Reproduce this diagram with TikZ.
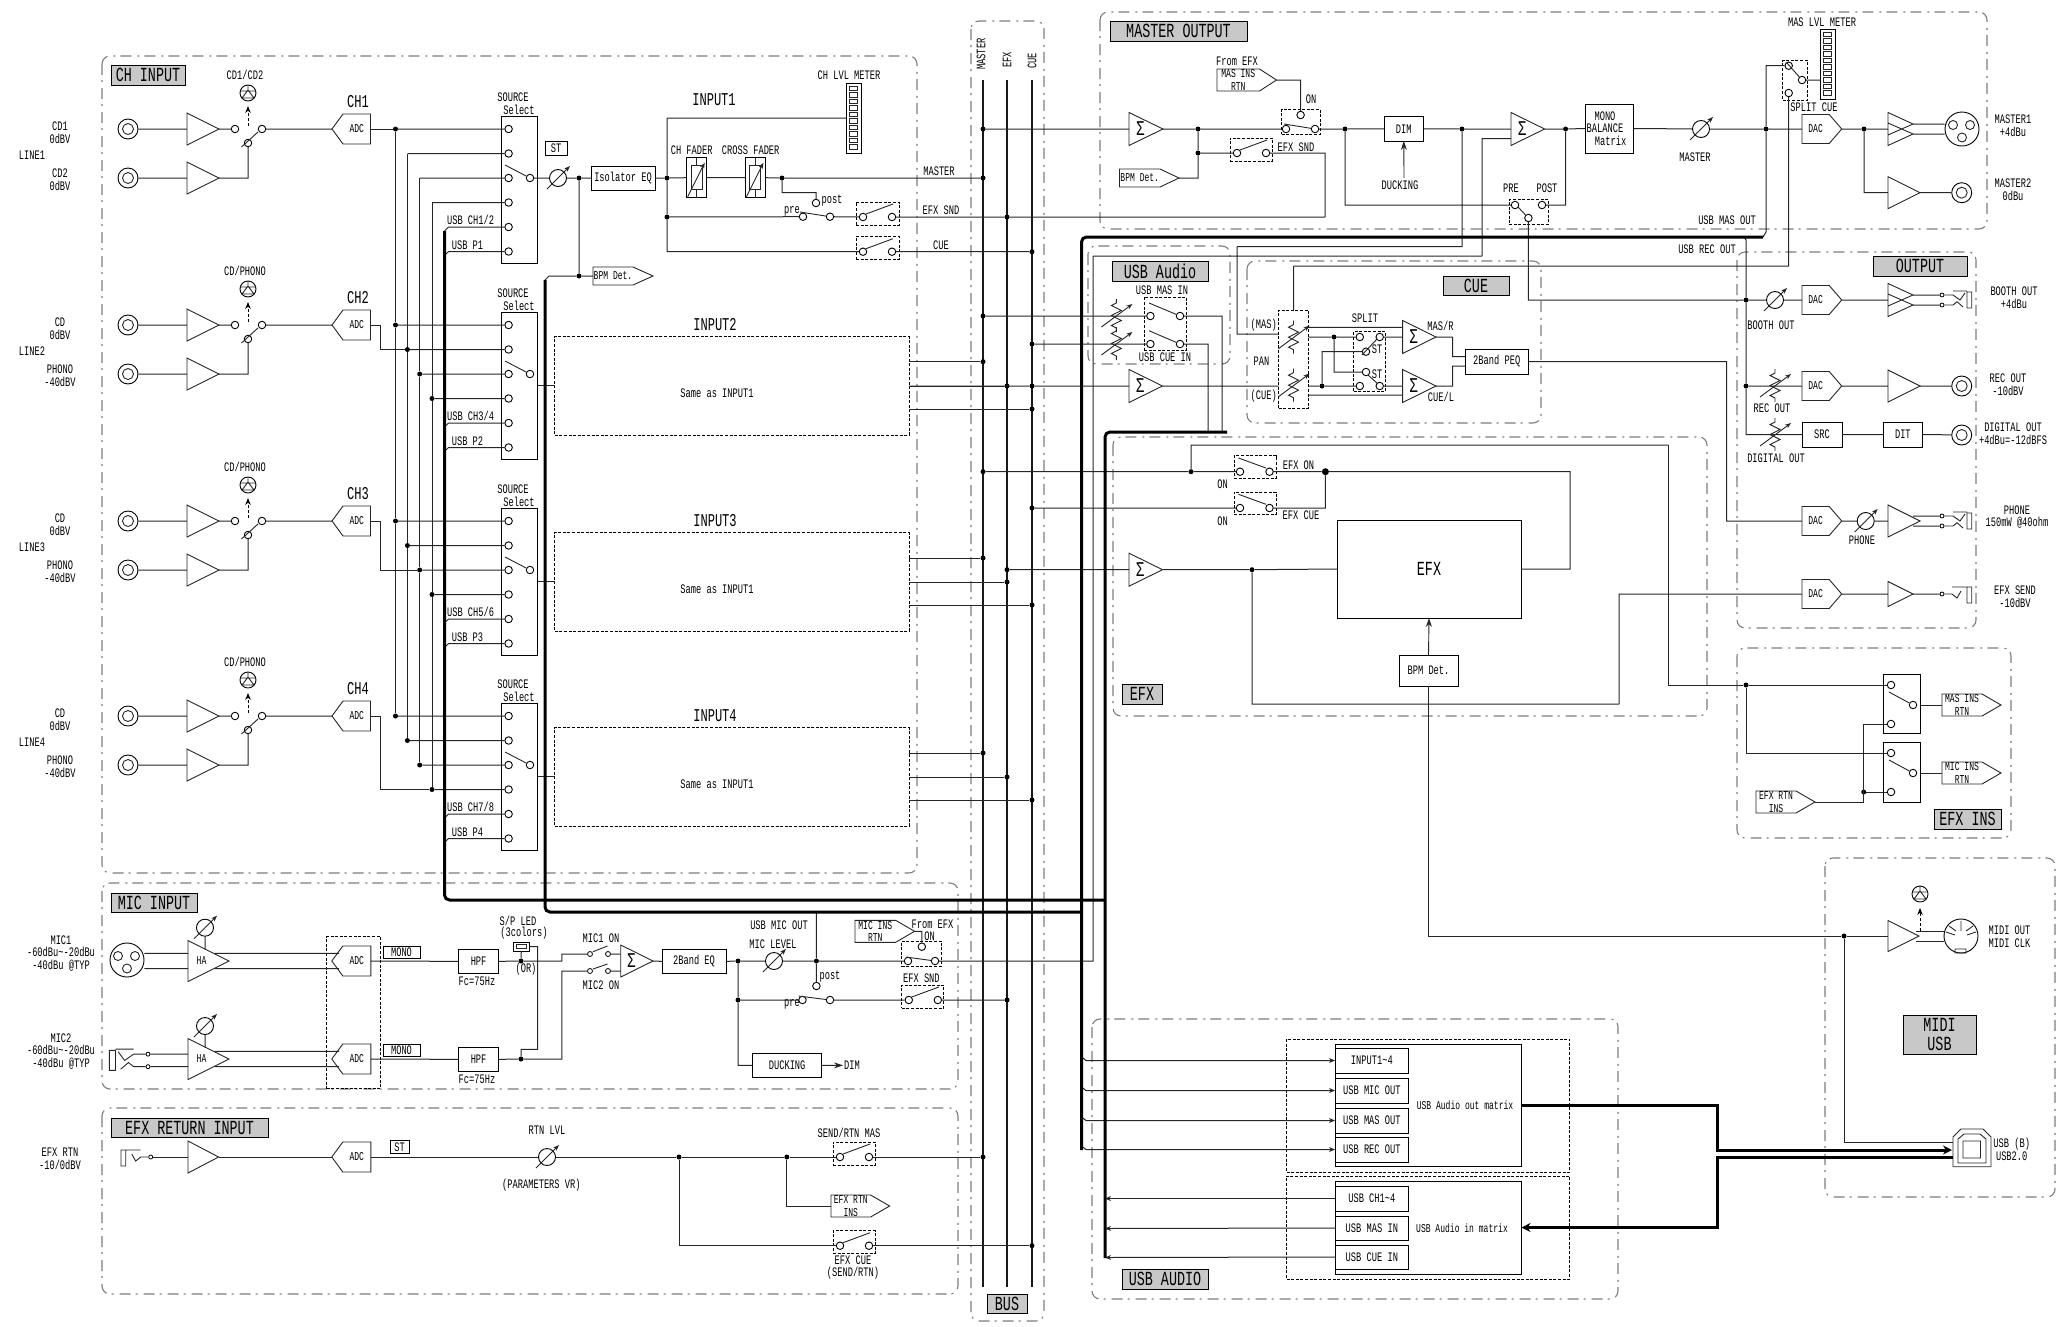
\documentclass[tikz,border=0pt]{standalone}
\usepackage{fontspec}
\usetikzlibrary{arrows.meta}
\newfontfamily\lblfont[FakeStretch=.67]{Liberation Mono}
\definecolor{ttlgray}{RGB}{200,200,200}
\definecolor{framegray}{RGB}{125,125,125}
\newcounter{labno}
\newcommand{\bigf}{\fontsize{20}{24}\selectfont}
\newcommand{\sgm}{\fontsize{21}{21}\selectfont Σ}

\tikzset{
  wire/.style={line width=1pt,black!85},
  busln/.style={line width=1.2pt,black!90},
  fatbus/.style={line width=3pt,black,rounded corners=5pt},
  fatline/.style={line width=3pt,black},
  sym/.style={line width=.9pt,black!85},
  dashframe/.style={draw=framegray,line width=1.1pt,rounded corners=8pt,dash pattern=on 11pt off 5pt on 2pt off 6pt},
  dashbox/.style={draw,dash pattern=on 3pt off 1.6pt},
  ttlbox/.style={draw,fill=ttlgray},
  plainbox/.style={draw},
  jdot/.style={circle,fill=black,inner sep=0pt,minimum size=5pt},
  jnone/.style={inner sep=0pt,minimum size=0pt},
  term/.style={circle,draw,fill=white,line width=.9pt,inner sep=0pt,minimum size=7.5pt},
  tinyterm/.style={circle,draw,fill=white,line width=.8pt,inner sep=0pt,minimum size=4pt},
  potc/.style={circle,draw,fill=white,line width=.9pt,inner sep=0pt,minimum size=17pt},
  symbox/.style={inner sep=0pt,outer sep=0pt},
  lbl/.style={inner sep=0pt,align=center},
  smtip/.style={-{Stealth[length=6pt,width=5pt]}},
  ledarrow/.style={line width=.9pt,dash pattern=on 3pt off 2pt,-{Stealth[length=7pt,width=5.5pt]}},
}

\newcommand{\lab}[4][13]{\stepcounter{labno}\node[lbl,font=\lblfont\fontsize{#1}{12.6}\selectfont] (txt\thelabno) at ({#2},{#3}) {#4};}
\newcommand{\bx}[7][plainbox]{\node[#1,inner sep=0pt,outer sep=0pt,align=center,line width=.9pt,font=\lblfont\fontsize{13}{12.6}\selectfont,minimum width={((#5)-(#3))*1pt},minimum height={((#6)-(#4))*1pt}] (#2) at ({((#3)+(#5))/2},{((#4)+(#6))/2}) {#7};}
\newcommand{\ampbl}[6]{\node[symbox,minimum width=#4pt,minimum height=#5pt] (#1) at ({(#2)+(#4)/2},{#3}) {};
  \draw[sym] (#1.north west) -- (#1.east) -- (#1.south west) -- cycle;
  \lab[12]{(#2)+(#4)*.33}{#3}{#6}}
\newcommand{\ampdbl}[3]{\node[symbox,minimum width=25pt,minimum height=33pt] (#1) at ({(#2)+12.5},{#3}) {};
  \coordinate (#1-u) at ({(#2)+25},{(#3)-5});
  \coordinate (#1-l) at ({(#2)+25},{(#3)+5});
  \draw[sym] (#1.north west) -- (#1-u) -- ({#2},{(#3)+6}) -- cycle
             (#1.south west) -- (#1-l) -- ({#2},{(#3)-6}) -- cycle;}
\newcommand{\tagr}[7]{\node[symbox,minimum width=#4pt,minimum height=#5pt] (#1) at ({(#2)+(#4)/2},{#3}) {};
  \draw[sym] (#1.north west) -- ([xshift=-#6pt]#1.north east) -- (#1.east) -- ([xshift=-#6pt]#1.south east) -- (#1.south west) -- cycle;
  \lab[12]{(#2)+((#4)-(#6))/2}{#3}{#7}}
\newcommand{\tagl}[7]{\node[symbox,minimum width=#4pt,minimum height=#5pt] (#1) at ({(#2)+(#4)/2},{#3}) {};
  \draw[sym] (#1.west) -- ([xshift=#6pt]#1.north west) -- (#1.north east) -- (#1.south east) -- ([xshift=#6pt]#1.south west) -- cycle;
  \lab[12]{(#2)+(#6)+((#4)-(#6))/2}{#3}{#7}}
\newcommand{\rca}[3]{\node[circle,draw,fill=white,line width=.9pt,inner sep=0pt,minimum size=20pt] (#1) at ({#2},{#3}) {};
  \draw[sym] ({#2},{#3}) circle (5.5pt);}
\newcommand{\xlr}[3]{\node[circle,draw,fill=white,line width=.9pt,inner sep=0pt,minimum size=34pt] (#1) at ({#2},{#3}) {};
  \draw[sym] ({(#2)-9},{(#3)-4}) circle (4.5pt) ({(#2)+8},{(#3)-4}) circle (4.5pt) ({#2},{(#3)+8.5}) circle (4.5pt);}
\newcommand{\potm}[3]{\node[potc] (#1) at ({#2},{#3}) {};
  \draw[sym,-{Stealth[length=6pt,width=4.5pt]}] ([shift={(-11pt,-11pt)}]#1.center) -- ([shift={(12pt,12pt)}]#1.center);}
\newcommand{\trimr}[3]{\node[symbox] (#1) at ({#2},{#3}) {};
  \draw[sym] ({#2},{(#3)-17}) -- ++(0,4) -- ++(-5,2.5) -- ++(10,5) -- ++(-10,5) -- ++(10,5) -- ++(-10,5) -- ++(5,2.5) -- ++(0,4);
  \draw[sym,-{Stealth[length=6pt,width=4.5pt]}] ([shift={(-15pt,-11pt)}]#1.center) -- ([shift={(16pt,12pt)}]#1.center);}
\newcommand{\fader}[3]{\node[symbox,draw,line width=.9pt,minimum width=20pt,minimum height=40pt] (#1) at ({#2},{#3}) {};
  \draw[sym] ({(#2)-5.5},{(#3)-12}) rectangle ({(#2)+5.5},{(#3)+12})
    ({#2},{(#3)-20}) -- ({#2},{(#3)-12}) ({#2},{(#3)+12}) -- ({#2},{(#3)+20});
  \draw[sym,-{Stealth[length=6pt,width=4.5pt]}] ([shift={(-9pt,-19pt)}]#1.center) -- ([shift={(8pt,15pt)}]#1.center);}
\newcommand{\ledl}[3]{\node[circle,draw,fill=white,line width=.9pt,inner sep=0pt,minimum size=16pt] (#1) at ({#2},{#3}) {};
  \draw[sym] ({#2},{(#3)-8}) -- ({#2},{(#3)-3}) -- ({(#2)-6},{(#3)+5}) -- ({(#2)+6},{(#3)+5}) -- ({#2},{(#3)-3})
    ({(#2)-7.5},{(#3)-2}) -- ({(#2)+7.5},{(#3)-2});}
\newcommand{\lvlmeter}[3]{\node[symbox,draw,line width=.9pt,minimum width=15pt,minimum height=70pt] (#1) at ({(#2)+7.5},{(#3)+35}) {};
  \foreach \cel in {0,...,9}{\draw[sym] ({(#2)+3.5},{(#3)+3+6.5*\cel}) rectangle ({(#2)+11.5},{(#3)+7.5+6.5*\cel});}}
\newcommand{\jackd}[4][]{\begin{scope}[shift={({#3},{#4})},#1]
  \node[tinyterm] (#2-a) at (0,-5) {};
  \node[tinyterm] (#2-b) at (0,5) {};
  \draw[sym] (25,-8) rectangle (29.7,8) (11,-9) -- (25,-9)
    (#2-a) -- (11,-5) -- (18,0) -- (23,-7) (#2-b) -- (11,5) -- (15,1.7) -- (21,7);
  \end{scope}}
\newcommand{\jacks}[4][]{\begin{scope}[shift={({#3},{#4})},#1]
  \node[tinyterm] (#2-a) at (0,0) {};
  \draw[sym] (25,-7) rectangle (29.7,9) (10,-7) -- (25,-7)
    (#2-a) -- (10,0) -- (15,4) -- (19,-3);
  \end{scope}}
\newcommand{\onsw}[4][42]{\bx[dashbox]{#2}{#3}{(#4)-15}{(#3)+(#1)}{(#4)+8}{}
  \node[term] (#2a) at ({(#3)+7},{#4}) {};
  \node[term] (#2b) at ({(#3)+36},{#4}) {};
  \draw[sym] ({(#3)+10},{(#4)-3}) -- ({(#3)+37},{(#4)-13});}
\newcommand{\onswb}[3]{\bx[dashbox]{#1}{#2}{(#3)-16}{(#2)+42}{(#3)+6.5}{}
  \node[term] (#1a) at ({(#2)+6},{#3}) {};
  \node[term] (#1b) at ({(#2)+35.5},{#3}) {};
  \draw[sym] ({(#2)+4.5},{(#3)-13.7}) -- ({(#2)+32},{(#3)-3.7});}

\begin{document}
\begin{tikzpicture}[x=1pt,y=-1pt]
\useasboundingbox (0,0) rectangle (2062,1326);

\draw[dashframe] (102,56) rectangle (917,873);
\draw[dashframe] (102,883) rectangle (958,1089);
\draw[dashframe] (102,1108) rectangle (958,1294);
\draw[dashframe] (971,21) rectangle (1044,1321);
\draw[dashframe] (1100,12) rectangle (1987,229);
\draw[dashframe] (1088,246) rectangle (1230,364);
\draw[dashframe] (1247,261) rectangle (1541,423);
\draw[dashframe] (1113,437) rectangle (1707,716);
\draw[dashframe] (1737,252) rectangle (1976,628);
\draw[dashframe] (1737,648) rectangle (2011,838);
\draw[dashframe] (1825,858) rectangle (2055,1197);
\draw[dashframe] (1092,1019) rectangle (1618,1299);

\bx[ttlbox]{ttlch}{111}{65}{185}{85}{\bigf CH INPUT}
\bx[ttlbox]{ttlmic}{111}{893}{197}{912}{\bigf MIC INPUT}
\bx[ttlbox]{ttlrtn}{111}{1118}{268}{1137}{\bigf EFX RETURN INPUT}
\bx[ttlbox]{ttlbus}{987}{1294}{1027}{1313}{\bigf BUS}
\bx[ttlbox]{ttlmas}{1110}{21}{1247}{41}{\bigf MASTER OUTPUT}
\bx[ttlbox]{ttlusb}{1112}{261}{1208}{281}{\bigf USB Audio}
\bx[ttlbox]{ttlcue}{1443}{276}{1509}{295}{\bigf CUE}
\bx[ttlbox]{ttlefx}{1122}{684}{1162}{704}{\bigf EFX}
\bx[ttlbox]{ttlout}{1873}{256}{1967}{276}{\bigf OUTPUT}
\bx[ttlbox]{ttlins}{1934}{809}{2001}{829}{\bigf EFX INS}
\bx[ttlbox]{ttlmidi}{1903}{1015}{1976}{1054}{}
\lab[20]{1939.5}{1024.5}{MIDI}
\lab[20]{1939.5}{1044}{USB}
\bx[ttlbox]{ttlaudio}{1122}{1269}{1208}{1289}{\bigf USB AUDIO}

\coordinate (busMa) at (983,80);
\coordinate (busMb) at (983,1287);
\coordinate (busEa) at (1007,80);
\coordinate (busEb) at (1007,1287);
\coordinate (busCa) at (1032,80);
\coordinate (busCb) at (1032,1287);
\draw[busln] (busMa) -- (busMb) (busEa) -- (busEb) (busCa) -- (busCb);
\node[lbl,rotate=90,font=\lblfont\fontsize{13}{13}\selectfont] (txtbm) at (981,54) {MASTER};
\node[lbl,rotate=90,font=\lblfont\fontsize{13}{13}\selectfont] (txtbe) at (1007,60) {EFX};
\node[lbl,rotate=90,font=\lblfont\fontsize{13}{13}\selectfont] (txtbc) at (1032,61) {CUE};

\foreach \nam/\xx/\yy in {dMo/983/129,dM1/983/178,dMu/983/316,dM2/983/361.7,dMe/983/471.7,dM3/983/558,dM4/983/753,dMr/983/1157,
  dE1/1007/217,dE2/1007/386,dEe/1007/569.7,dE3/1007/582,dE4/1007/777,dEm/1007/1000,
  dC1/1032/251.7,dCu/1032/344,dC2o/1032/386,dC2/1032/409,dCe/1032/508,dC3/1032/605,dC4/1032/800,dCr/1032/1245.7}
  {\node[jdot] (\nam) at (\xx,\yy) {};}

% four channel strips
\foreach \n/\y/\ledt/\ta/\tb/\ucl/\upl/\ds in {
  1/129/{CD1/CD2}/{CD1\\0dBV}/{CD2\\0dBV}/{USB CH1/2}/{USB P1}/jnone,
  2/325/{CD/PHONO}/{CD\\0dBV}/{PHONO\\-40dBV}/{USB CH3/4}/{USB P2}/jdot,
  3/521/{CD/PHONO}/{CD\\0dBV}/{PHONO\\-40dBV}/{USB CH5/6}/{USB P3}/jdot,
  4/716/{CD/PHONO}/{CD\\0dBV}/{PHONO\\-40dBV}/{USB CH7/8}/{USB P4}/jdot}{
  \rca{rca\n-a}{128}{\y}
  \rca{rca\n-b}{128}{\y+49}
  \ampbl{amp\n-a}{187}{\y}{32}{32}{}
  \ampbl{amp\n-b}{187}{\y+49}{32}{32}{}
  \node[term] (ip\n-a) at (235,\y) {};
  \node[term] (ip\n-b) at (248,\y+14) {};
  \node[term] (ip\n-o) at (262,\y) {};
  \draw[sym] (241.5,\y+18) -- (258,\y+3);
  \ledl{led\n}{248}{\y-36}
  \coordinate (ledfoot\n) at (248,\y-3);
  \coordinate (ledtip\n) at (248,\y-23);
  \draw[ledarrow] (ledfoot\n) -- (ledtip\n);
  \lab{245}{\y-54}{\ledt}
  \tagl{adc\n}{332}{\y}{38.5}{30}{11}{ADC}
  \lab[18]{358}{\y-27}{CH\n}
  \lab{60}{\y+4}{\ta}
  \lab{60}{\y+51}{\tb}
  \lab{32}{\y+26}{LINE\n}
  \bx{s\n}{501}{\y-13}{537.5}{\y+134}{}
  \foreach \tn/\ty in {a/0,b/24.5,c/49,d/73.5,e/98,f/122.5}{\node[term] (s\n-\tn) at (508.6,\y+\ty) {};}
  \node[term] (s\n-o) at (530,\y+49) {};
  \draw[sym] (505,\y+36) -- (s\n-o);
  \lab{513}{\y-32}{SOURCE}
  \lab{519}{\y-19}{Select}
  \node[jdot] (bus\n-a) at (395.5,\y) {};
  \node[\ds] (bus\n-b) at (407.4,\y+24.5) {};
  \node[\ds] (bus\n-c) at (419.7,\y+49) {};
  \node[\ds] (bus\n-d) at (432,\y+73.5) {};
  \coordinate (usb\n-c) at (444.5,\y+102);
  \coordinate (usb\n-p) at (444.5,\y+126.5);
  \lab{470.6}{\y+91}{\ucl}
  \lab{467.5}{\y+116}{\upl}
  \draw[wire]
  (rca\n-a) to (amp\n-a.west)
  (rca\n-b) to (amp\n-b.west)
  (amp\n-a.east) to (ip\n-a)
  (amp\n-b.east) -| (ip\n-b)
  (ip\n-o) to (adc\n.west)
  (bus\n-a) to (s\n-a)
  (bus\n-b) to (s\n-b)
  (bus\n-c) to (s\n-c)
  (bus\n-d) to (s\n-d)
  (s\n-e) -- (448.5,\y+98) -- (usb\n-c)
  (s\n-f) -- (448.5,\y+122.5) -- (usb\n-p);
}

\draw[wire]
(adc1.east) to (bus1-a)
(adc2.east) -- ++(9.5,0) |- (bus2-b)
(adc3.east) -- ++(9.5,0) |- (bus3-c)
(adc4.east) -- ++(9.5,0) |- (bus4-d)
(bus1-a) to (bus2-a) (bus2-a) to (bus3-a) (bus3-a) to (bus4-a)
(bus1-b) to (bus2-b) (bus2-b) to (bus3-b) (bus3-b) to (bus4-b)
(bus1-c) to (bus2-c) (bus2-c) to (bus3-c) (bus3-c) to (bus4-c)
(bus1-d) to (bus2-d) (bus2-d) to (bus3-d) (bus3-d) to (bus4-d);

\foreach \n/\y in {2/325,3/521,4/716}{
  \bx[dashbox]{inp\n}{554.7}{\y+11.7}{909}{\y+110}{}
  \lab{717}{\y+68}{Same as INPUT1}
  \lab[18]{715}{\y}{INPUT\n}
  \draw[wire]
  (s\n.east |- inp\n.west) to (inp\n.west)
  (inp\n.east |- dM\n) to (dM\n)
  (inp\n.east |- dE\n) to (dE\n)
  (inp\n.east |- dC\n) to (dC\n);
}

% input 1
\potm{volst}{558}{178}
\bx{stbox}{545}{141}{567}{155}{ST}
\node[jdot] (dIso) at (579,178) {};
\node[jdot] (dBpm) at (579,276) {};
\bx{iso}{591}{166}{655}{190}{Isolator EQ}
\node[jdot] (dEq) at (667,178) {};
\node[jdot] (dPre) at (667,217) {};
\fader{fadch}{696.7}{177.7}
\fader{fadx}{755.4}{177.7}
\node[jdot] (dFad) at (782,178) {};
\tagr{bpm1}{593}{276}{60}{18}{20}{BPM Det.}
\lvlmeter{chmeter}{846}{83}
\coordinate (mtop) at (667,118);
\coordinate (usbbpm) at (545,280);
\node[term] (post1) at (816,203) {};
\node[term] (pre1) at (803,216.7) {};
\node[term] (prr1) at (830,216.7) {};
\draw[sym] (800,212) -- (prr1);
\onsw[43]{efxsnd1}{856}{217}
\onsw[43]{cue1}{856}{251.7}
\lab[18]{714}{100}{INPUT1}
\lab{849}{75}{CH LVL METER}
\lab{691.7}{150}{CH FADER}
\lab{750.7}{150}{CROSS FADER}
\lab{832}{201}{post}
\lab{792}{211}{pre}
\lab{939}{171}{MASTER}
\lab{941}{210}{EFX SND}
\lab{941}{245}{CUE}
\draw[wire]
(s1-o) to (volst)
(volst) to (dIso)
(dIso) to (iso.west)
(iso.east) to (dEq)
(dEq) to (fadch.west)
(fadch.east) to (fadx.west)
(fadx.east) to (dFad)
(dFad) to (dM1)
(dIso) to (dBpm)
(dBpm) to (bpm1.west)
(dBpm) -- (549,276) -- (usbbpm)
(dEq) to (mtop)
(mtop) to (chmeter.west)
(dEq) to (dPre)
(dPre) |- (cue1a)
(dPre) to (pre1)
(prr1) to (efxsnd1a)
(efxsnd1b) to (dE1)
(cue1b) to (dC1)
(dFad) -- ++(0,14.7) -| (post1);

% master output
\ampbl{summ1}{1129}{129}{34}{33}{\sgm}
\node[jdot] (dM1b) at (1198,129) {};
\node[jdot] (dM1c) at (1198,153) {};
\tagr{bpm2}{1119.5}{178}{59.5}{18}{19}{BPM Det.}
\onsw{efxsnd2}{1230}{153}
\bx[dashbox]{onbox}{1281.7}{109}{1320}{134}{}
\node[term] (ona) at (1286,129) {};
\node[term] (onb) at (1315,129) {};
\node[term] (onc) at (1300.6,115) {};
\draw[sym] (1284,124) -- (onb);
\tagr{masins}{1217}{80}{59.5}{22}{17}{MAS INS\\RTN}
\node[jdot] (dM2a) at (1345,129) {};
\bx{dim}{1384}{116.7}{1423.6}{141}{DIM}
\coordinate (duck) at (1404,178);
\node[jdot] (dMix) at (1462,129) {};
\ampbl{summ2}{1511}{129}{33.6}{33}{\sgm}
\coordinate (sumin2) at (1511,138.7);
\node[jdot] (dSum2) at (1565.6,129) {};
\bx[dashbox]{prebox}{1509}{199.7}{1548.6}{224}{}
\node[term] (prea) at (1515,205) {};
\node[term] (preb) at (1542,205) {};
\node[term] (prec) at (1528.4,218) {};
\draw[sym] (1518,207) -- (prec);
\bx{mono}{1585}{104}{1633.6}{153}{}
\lab{1605}{116}{MONO}
\lab{1605}{128.5}{BALANCE}
\lab{1610.6}{141}{Matrix}
\potm{volm}{1701}{129}
\node[jdot] (dMas) at (1766,129) {};
\bx[dashbox]{splitbox}{1782.7}{60.7}{1807.7}{100}{}
\node[term] (spa) at (1788.7,65.7) {};
\node[term] (spb) at (1802,80) {};
\node[term] (spc) at (1788.7,93) {};
\draw[sym] (1787,63) -- (spb);
\lvlmeter{masmeter}{1820}{29.3}
\tagr{dacm}{1802}{129}{39.7}{29}{12.5}{DAC}
\node[jdot] (dDac) at (1864,129) {};
\ampdbl{ampd1}{1888}{129}
\ampbl{ampm2}{1888}{192.7}{32}{32}{}
\xlr{xlrm}{1962}{129}
\rca{rcam2}{1961.7}{192.7}
\lab{1237}{61}{From EFX}
\lab{1311}{99}{ON}
\lab{1296}{147}{EFX SND}
\lab{1400}{185}{DUCKING}
\lab{1511}{188}{PRE}
\lab{1547}{188}{POST}
\lab{1695}{157}{MASTER}
\lab{1822}{22}{MAS LVL METER}
\lab{1814}{107}{SPLIT CUE}
\lab{2013}{125.5}{MASTER1\\ +4dBu}
\lab{2013}{189.5}{MASTER2\\ 0dBu}
\lab{1727}{220}{USB MAS OUT}
\lab{1707}{249}{USB REC OUT}
\coordinate (cornA) at (1237,246.7);
\coordinate (panin) at (1278.6,334);
\coordinate (panTop) at (1293.5,266);
\coordinate (micup) at (1093,256);
\coordinate (micin) at (1482,256);
\coordinate (sndbk) at (1325,217);
\coordinate (fat2end) at (1763,237);
\coordinate (fatrec) at (1744,237);
\draw[wire]
(dMo) to (summ1.west)
(summ1.east) to (dM1b)
(dM1b) to (ona)
(dM1b) to (dM1c)
(dM1c) to (efxsnd2a)
(dM1c) |- (bpm2.east)
(efxsnd2b) -| (sndbk)
(sndbk) to (dE1)
(masins.east) -| (onc)
(onb) to (dM2a)
(dM2a) to (dim.west)
(dim.east) to (dMix)
(dMix) to (summ2.west)
(summ2.east) to (dSum2)
(dSum2) to (mono.west)
(mono.east) to (volm)
(volm) to (dMas)
(dMas) to (dacm.west)
(dacm.east) to (dDac)
(dDac) to (ampd1.west)
(dDac) |- (ampm2.west)
(ampm2.east) to (rcam2)
(ampd1-u) to (xlrm.west |- ampd1-u)
(ampd1-l) to (xlrm.west |- ampd1-l)
(dM2a) |- (prea)
(dSum2) |- (preb)
(dMix) |- (cornA)
(cornA) |- (panin)
(dMas) |- (spa)
(spb) to (masmeter.west |- spb)
(dMas) -- (1766,232) -- (fat2end)
(spc) |- (panTop)
(sumin2) -| (micin)
(micin) to (micup);
\draw[sym,-{Stealth[length=9pt,width=6pt]}] (duck) to (dim.south);

% usb audio and cue
\trimr{trimu1}{1116.4}{316}
\trimr{trimu2}{1116.4}{344}
\bx[dashbox]{usbsw}{1144}{297}{1186}{350.7}{}
\node[term] (usa) at (1150.4,316) {};
\node[term] (usb) at (1180,316) {};
\node[term] (uca) at (1150.4,344) {};
\node[term] (ucb) at (1180,344) {};
\draw[sym] (1149,303) -- (usb) (1149,330.7) -- (ucb);
\lab{1162}{290}{USB MAS IN}
\lab{1165}{357}{USB CUE IN}
\coordinate (umsd) at (1222,432);
\coordinate (ucsd) at (1208,432);
\ampbl{sumc}{1129}{386}{33.5}{33}{\sgm}
\bx[dashbox]{panbox}{1278.6}{310}{1308.5}{408}{}
\trimr{trimp1}{1293.5}{337.7}
\trimr{trimp2}{1293.5}{385.7}
\lab{1263.7}{325}{(MAS)}
\lab{1261.4}{361.7}{PAN}
\lab{1263.7}{395.7}{(CUE)}
\bx[dashbox]{splitsw}{1353.6}{331.7}{1385.4}{391.7}{}
\node[term] (sp1) at (1359.8,337) {};
\node[term] (sp2) at (1379.7,337) {};
\node[term] (sp3) at (1366,351.7) {};
\node[term] (sp4) at (1366,372) {};
\node[term] (sp5) at (1359.8,386) {};
\node[term] (sp6) at (1379.7,386) {};
\draw[sym] (1362,355) -- (1377,339) (1368,375) -- (1378,384);
\lab{1377}{349}{ST}
\lab{1377}{374}{ST}
\lab{1365}{318}{SPLIT}
\node[jdot] (dQ1) at (1334,337) {};
\node[jdot] (dQ2) at (1322,386) {};
\ampbl{sumr}{1402.6}{337}{33.4}{33}{\sgm}
\ampbl{suml}{1402.6}{386}{33.4}{33}{\sgm}
\lab{1440.5}{326}{MAS/R}
\lab{1441}{396.7}{CUE/L}
\bx{peq}{1465}{349}{1528.5}{374}{2Band PEQ}
\coordinate (pr1) at (1308.5,327.3);
\coordinate (pr2) at (1308.5,337);
\coordinate (pr3) at (1308.5,386);
\coordinate (pr4) at (1308.5,395);
\coordinate (sr1) at (1402.6,327.3);
\coordinate (sr4) at (1402.6,395);
\coordinate (peqa) at (1465,356.7);
\coordinate (peqb) at (1465,366);
\draw[wire]
(dMu) to (usa)
(dCu) to (uca)
(usb) -| (umsd)
(ucb) -| (ucsd)
(inp2.east |- dC2o) to (dC2o)
(dC2o) to (sumc.west)
(sumc.east) to (panbox.west |- sumc.east)
(panin) to (panbox.west |- panin)
(panTop) to (panbox.north)
(pr1) to (sr1)
(pr2) to (dQ1)
(dQ1) to (sp1)
(pr3) to (dQ2)
(dQ2) to (sp5)
(pr4) to (sr4)
(sp3) -| (dQ2)
(sp4) -| (dQ1)
(sp2) to (sumr.west)
(sp6) to (suml.west)
(sumr.east) -- ++(16.7,0) |- (peqa)
(suml.east) -- ++(16.7,0) |- (peqb);

% efx
\node[jdot] (dEt) at (1191,471.7) {};
\onswb{eon}{1234}{471.7}
\onswb{eco}{1234}{508}
\node[circle,fill=black,inner sep=0pt,minimum size=7pt] (dEo) at (1325.4,471.7) {};
\ampbl{sume}{1129}{569.7}{33.5}{33}{\sgm}
\node[jdot] (dSnd) at (1252,569.7) {};
\bx{efxbx}{1337}{520}{1521}{618}{\bigf EFX}
\bx{bpm3}{1399}{655}{1458}{686}{BPM Det.}
\coordinate (efxtopr) at (1668,445);
\coordinate (snd1) at (1619,704);
\lab{1298.5}{465}{EFX ON}
\lab{1222.6}{484}{ON}
\lab{1301}{515}{EFX CUE}
\lab{1222.6}{521}{ON}
\draw[wire]
(dMe) to (dEt)
(dEt) to (eona)
(eonb) to (dEo)
(dEt) |- (efxtopr)
(dCe) to (ecoa)
(ecob) -| (dEo)
(dEo) -- ++(244.6,0) |- (efxbx.east)
(dEe) to (sume.west)
(sume.east) to (dSnd)
(dSnd) to (efxbx.west)
(dSnd) |- (snd1);
\draw[sym,-{Stealth[length=9pt,width=6pt]}] (bpm3.north) to (efxbx.south);

% outputs
\node[jdot] (dBooth) at (1746,300) {};
\node[jdot] (dRec) at (1746,386) {};
\potm{volb}{1775}{300}
\tagr{dacb}{1802}{300}{39.7}{29}{12.5}{DAC}
\ampdbl{ampd2}{1888}{300}
\jackd{jb}{1942}{300}
\trimr{trimrec}{1775}{386}
\tagr{dacr}{1802}{386}{39.7}{29}{12.5}{DAC}
\ampbl{ampr}{1888}{386}{32}{32}{}
\rca{rcar}{1961.7}{386}
\trimr{trimdig}{1775}{435}
\bx{srcb}{1802}{422}{1842}{447}{SRC}
\bx{ditb}{1883}{422}{1922.7}{447}{DIT}
\rca{rcad}{1961.7}{435}
\tagr{dacph}{1802}{521}{39.7}{29}{12.5}{DAC}
\potm{volph}{1865.7}{521}
\ampbl{ampph}{1888}{521}{32}{32}{}
\coordinate (phu) at (1913,516);
\coordinate (phl) at (1913,526);
\jackd{jph}{1942}{521}
\tagr{dacs}{1802}{594}{39.7}{29}{12.5}{DAC}
\ampbl{amps}{1888}{594}{25}{25}{}
\jacks{jse}{1942}{594}
\lab{1771}{325}{BOOTH OUT}
\lab{1772}{408}{REC OUT}
\lab{1776}{458}{DIGITAL OUT}
\lab{1862}{540}{PHONE}
\lab{2014}{297.5}{BOOTH OUT\\ +4dBu}
\lab{2008}{385}{REC OUT\\ -10dBV}
\lab{2013}{434}{DIGITAL OUT\\+4dBu=-12dBFS}
\lab{2017}{517}{PHONE\\150mW @40ohm}
\lab{2015}{597}{EFX SEND\\ -10dBV}
\draw[wire]
(fatrec) -- (1746,240) -- (dBooth)
(dBooth) to (dRec)
(dRec) |- (srcb.west)
(prec) |- (dBooth)
(dBooth) to (volb)
(volb) to (dacb.west)
(dacb.east) to (ampd2.west)
(ampd2-u) to (jb-a)
(ampd2-l) to (jb-b)
(dRec) to (dacr.west)
(dacr.east) to (ampr.west)
(ampr.east) to (rcar)
(srcb.east) to (ditb.west)
(ditb.east) to (rcad)
(peq.east) -- ++(198.2,0) |- (dacph.west)
(dacph.east) to (volph)
(volph) to (ampph.west)
(phu) to (jph-a)
(phl) to (jph-b)
(snd1) |- (dacs.west)
(dacs.east) to (amps.west)
(amps.east) to (jse-a);

% efx ins
\node[jdot] (dEi) at (1746,685) {};
\bx{insa}{1883}{674}{1920}{733.7}{}
\bx{insb}{1883}{742.7}{1920}{802}{}
\foreach \s/\yo in {a/685,b/753}{
  \node[term] (ins\s-a) at (1891,\yo) {};
  \node[term] (ins\s-o) at (1913,\yo+20) {};
  \node[term] (ins\s-c) at (1891,\yo+39) {};
  \draw[sym] (1889,\yo+7) -- (ins\s-o);
}
\tagr{tagmas}{1942}{705}{59}{22}{19}{MAS INS\\RTN}
\tagr{tagmic}{1942}{773}{59}{22}{19}{MIC INS\\RTN}
\tagr{tagrtn}{1756}{802}{59}{22}{19}{EFX RTN\\INS}
\coordinate (cRtn) at (1863.7,802);
\node[jdot] (dRtn) at (1863.7,792) {};
\draw[wire]
(efxtopr) |- (dEi)
(dEi) to (insa-a)
(dEi) |- (insb-a)
(insa.east |- tagmas.west) to (tagmas.west)
(insb.east |- tagmic.west) to (tagmic.west)
(insa-c) -| (cRtn)
(tagrtn.east) to (cRtn)
(dRtn) to (insb-c);

% mic input
\xlr{xlrmic}{127}{960}
\jackd[{xscale=-1.3,yscale=1.25}]{jmic}{148}{1060.4}
\ampbl{ham1}{188}{961}{41}{41}{HA}
\ampbl{ham2}{188}{1059}{41}{41}{HA}
\potm{volm1}{205}{927.7}
\potm{volm2}{205}{1026}
\bx[dashbox]{adcbox}{326.8}{936.7}{380.7}{1088.7}{}
\tagl{adcm1}{331.8}{961}{39}{30}{11}{ADC}
\tagl{adcm2}{331.8}{1059}{39}{30}{11}{ADC}
\bx{mono1}{383}{946}{420}{958.7}{MONO}
\bx{mono2}{383}{1044}{420}{1056.7}{MONO}
\bx{hpf1}{458.6}{949}{498.6}{973.7}{HPF}
\bx{hpf2}{458.6}{1047}{498.6}{1071.7}{HPF}
\bx{ledbox}{513.6}{942}{529}{951}{}
\draw[sym] (516.5,944.2) rectangle (526,948.8);
\node[jdot] (dLed) at (521,961) {};
\node[jdot] (dHp2) at (521,1059) {};
\coordinate (cornerL) at (521,1049.3);
\node[tinyterm,minimum size=5pt] (mt1a) at (590,954) {};
\node[tinyterm,minimum size=5pt] (mt1b) at (608,954) {};
\node[tinyterm,minimum size=5pt] (mt2a) at (590,971) {};
\node[tinyterm,minimum size=5pt] (mt2b) at (608,971) {};
\draw[sym] (593,951.7) -- (607.5,946) (593,969) -- (607.5,964);
\ampbl{sumic}{620.7}{961}{32.3}{32}{\sgm}
\bx{eq2}{662}{949}{726}{973.7}{2Band EQ}
\node[jdot] (dE2b) at (738,961) {};
\node[jdot] (dE2c) at (738,1000) {};
\bx{ducking}{752.5}{1053}{821.8}{1077.7}{DUCKING}
\coordinate (dimtip) at (843,1065.4);
\potm{volmic}{774}{961}
\node[jdot] (dUm) at (816.4,961) {};
\coordinate (usbmic) at (816.4,912);
\node[term] (post2) at (816.4,986) {};
\node[term] (pre2) at (802.5,1000) {};
\node[term] (prr2) at (830,1000) {};
\draw[sym] (798.6,996) -- (prr2);
\onsw{efxsnd3}{901.8}{1000}
\bx[dashbox]{onbox2}{901.8}{941}{941.4}{966}{}
\node[term] (on2a) at (908,961) {};
\node[term] (on2b) at (935,961) {};
\node[term] (on2c) at (921.8,946.7) {};
\draw[sym] (906,957) -- (on2b);
\tagr{micins}{855}{931.3}{59.6}{22}{19}{MIC INS\\RTN}
\lab{61}{953.5}{MIC1\\-60dBu\textasciitilde-20dBu\\-40dBu @TYP}
\lab{61}{1051.5}{MIC2\\-60dBu\textasciitilde-20dBu\\-40dBu @TYP}
\lab{477}{981}{Fc=75Hz}
\lab{477}{1079}{Fc=75Hz}
\lab{518}{921}{S/P LED}
\lab{524}{933}{(3colors)}
\lab{526}{969}{(OR)}
\lab{601}{938}{MIC1 ON}
\lab{601}{985.7}{MIC2 ON}
\lab{779}{925}{USB MIC OUT}
\lab{773}{944}{MIC LEVEL}
\lab{830}{977}{post}
\lab{792}{1004}{pre}
\lab{852}{1065}{DIM}
\lab{921.4}{978}{EFX SND}
\lab{932.5}{924.3}{From EFX}
\lab{929.6}{936.7}{ON}
\coordinate (m1u) at (188,953.3);
\coordinate (m1l) at (188,968.7);
\coordinate (h1u) at (214.6,953.3);
\coordinate (h1l) at (214.6,968.7);
\coordinate (a1u) at (339,953.3);
\coordinate (a1l) at (339,968.7);
\coordinate (h2u) at (214.6,1051.3);
\coordinate (h2l) at (214.6,1066.7);
\coordinate (a2u) at (339,1051.3);
\coordinate (a2l) at (339,1066.7);
\draw[wire]
(xlrmic.east |- m1u) to (m1u)
(xlrmic.east |- m1l) to (m1l)
(jmic-a) to (ham2.west |- jmic-a)
(jmic-b) to (ham2.west |- jmic-b)
(volm1.south) -- ++(0,13)
(volm2.south) -- ++(0,13)
(h1u) to (a1u)
(h1l) to (a1l)
(h2u) to (a2u)
(h2l) to (a2l)
(adcm1.east) to (hpf1.west)
(adcm2.east) to (hpf2.west)
(hpf1.east) to (dLed)
(hpf2.east) to (dHp2)
(ledbox.south) to (dLed)
(ledbox.east) -- ++(8.5,0) |- (cornerL) -- (dHp2)
(dLed) -- ++(40.8,0) |- (mt1a)
(dHp2) -- ++(40.8,0) |- (mt2a)
(mt1b) to (sumic.west |- mt1b)
(mt2b) to (sumic.west |- mt2b)
(sumic.east) to (eq2.west)
(eq2.east) to (dE2b)
(dE2b) to (volmic)
(volmic) to (dUm)
(dUm) to (on2a)
(dUm) to (usbmic)
(dUm) to (post2)
(dE2b) to (dE2c)
(dE2c) to (pre2)
(dE2c) |- (ducking.west)
(prr2) to (efxsnd3a)
(efxsnd3b) to (dEm)
(micins.east) -| (on2c)
(on2b) -| (micup);
\draw[sym,-{Stealth[length=9pt,width=6pt]}] (ducking.east) to (dimtip);

% efx return
\jacks[{xscale=-1}]{jrtn}{150.7}{1157}
\ampbl{amprtn}{188}{1157}{30.6}{32}{}
\tagl{adcrtn}{331.8}{1157}{39}{30}{11}{ADC}
\bx{strtn}{390}{1140}{409}{1153.7}{ST}
\potm{volrtn}{547}{1157}
\node[jdot] (dRa) at (679,1157) {};
\node[jdot] (dRb) at (786.8,1157) {};
\onsw{sndrtn}{833}{1157}
\tagr{tagrtn2}{831}{1206}{58.6}{22}{19}{EFX RTN\\INS}
\onsw{cuertn}{833}{1245.7}
\lab{60}{1158.5}{EFX RTN\\-10/0dBV}
\lab{547}{1130}{RTN LVL}
\lab{541.4}{1184.7}{(PARAMETERS VR)}
\lab{849}{1133}{SEND/RTN MAS}
\lab{853}{1267.3}{EFX CUE\\(SEND/RTN)}
\draw[wire]
(jrtn-a) to (amprtn.west)
(amprtn.east) to (adcrtn.west)
(adcrtn.east) to (volrtn)
(volrtn) to (dRa)
(dRa) to (dRb)
(dRb) to (sndrtna)
(sndrtnb) to (dMr)
(dRb) |- (tagrtn2.west)
(dRa) |- (cuertna)
(cuertnb) to (dCr);

% midi, usb
\node[jdot] (dMidi) at (1844,936) {};
\ampbl{ampmid}{1888}{936}{31}{31}{}
\ledl{ledmid}{1920}{894}
\coordinate (midfoot) at (1920,931);
\coordinate (midtip) at (1920,908);
\draw[ledarrow] (midfoot) -- (midtip);
\node[circle,draw,fill=white,line width=.9pt,inner sep=0pt,minimum size=34pt] (din) at (1961,936) {};
\draw[sym] (1961,921) -- (1961,931) (1949,926) -- (1956,931) (1973,926) -- (1966,931)
  (1946,932) -- (1955,935) (1976,932) -- (1967,935) (1955,949) rectangle (1966,953);
\coordinate (midu) at (1916,931);
\coordinate (midl) at (1916,941);
\lab{2009.5}{936.5}{MIDI OUT\\MIDI CLK}
\node[symbox,minimum width=38pt,minimum height=37pt] (usbcon) at (1972,1148) {};
\draw[sym] (1953,1166.7) -- (1953,1137) -- (1961,1129) -- (1983,1129) -- (1991,1137) -- (1991,1166.7) -- cycle
  (1958,1163) -- (1958,1139) -- (1964,1134) -- (1980,1134) -- (1986,1139) -- (1986,1163) -- cycle
  (1963,1141) rectangle (1980.5,1158);
\lab{2011.7}{1149.5}{USB (B)\\USB2.0}
\coordinate (conm) at (1953,1142);
\coordinate (conhi) at (1952,1150);
\coordinate (conlo) at (1953,1157);
\coordinate (usbhi) at (1717,1150);
\coordinate (usblo) at (1717,1157);
\draw[wire]
(bpm3.south) |- (dMidi)
(dMidi) to (ampmid.west)
(midu) to (din.west |- midu)
(midl) to (din.west |- midl)
(dMidi) |- (conm);

% usb audio matrices
\bx[dashbox]{outdash}{1286.6}{1039}{1569.7}{1172}{}
\bx[dashbox]{indash}{1286.6}{1176}{1569.7}{1279}{}
\bx{uomx}{1335}{1044}{1521.5}{1166.7}{}
\bx{uimx}{1335}{1181}{1521.5}{1274}{}
\lab[12]{1465}{1105}{USB Audio out matrix}
\lab[12]{1462}{1228}{USB Audio in matrix}
\foreach \i/\ya/\yb/\txt in {1/1048/1073/{INPUT1\textasciitilde4},2/1078/1103/{USB MIC OUT},3/1108/1133/{USB MAS OUT},4/1137/1162/{USB REC OUT}}{
  \bx{uo\i}{1335}{\ya}{1408.7}{\yb}{\txt}
  \coordinate (usbo\i) at (1081.5,\ya+9);
  \coordinate (usbp\i) at (1086,\ya+12.5);
  \draw[wire,smtip] (usbo\i) -- (usbp\i) -- (uo\i.west);
}
\foreach \i/\ya/\yb/\txt in {1/1186/1211/{USB CH1\textasciitilde4},2/1216/1240/{USB MAS IN},3/1245/1269/{USB CUE IN}}{
  \bx{ui\i}{1335}{\ya}{1408.7}{\yb}{\txt}
  \coordinate (usbq\i) at (1105,\ya+12.5);
  \draw[wire,smtip] (ui\i.west) -- (usbq\i);
}

% fat usb buses
\coordinate (fat1top) at (1227,432);
\coordinate (fat1dn) at (1105,1258);
\coordinate (fat1in) at (1105,900);
\coordinate (fat2a) at (1081.5,912);
\coordinate (fat2dn) at (1081.5,1150);
\draw[fatbus] (usb1-c) -- (444.5,900) -- (fat1in);
\draw[fatbus] (fat1top) -- (1105,432) -- (fat1dn);
\draw[fatbus] (usbbpm) -- (545,912) -- (fat2a);
\draw[fatbus] (fat2end) -- (1081.5,237) -- (fat2dn);
\draw[fatline,-{Stealth[length=9pt,width=9pt]}] (uomx.east) -| (usbhi) -- (conhi);
\draw[fatline,-{Stealth[length=9pt,width=9pt]}] (conlo) -- (usblo) |- (uimx.east);

\end{tikzpicture}
\end{document}
